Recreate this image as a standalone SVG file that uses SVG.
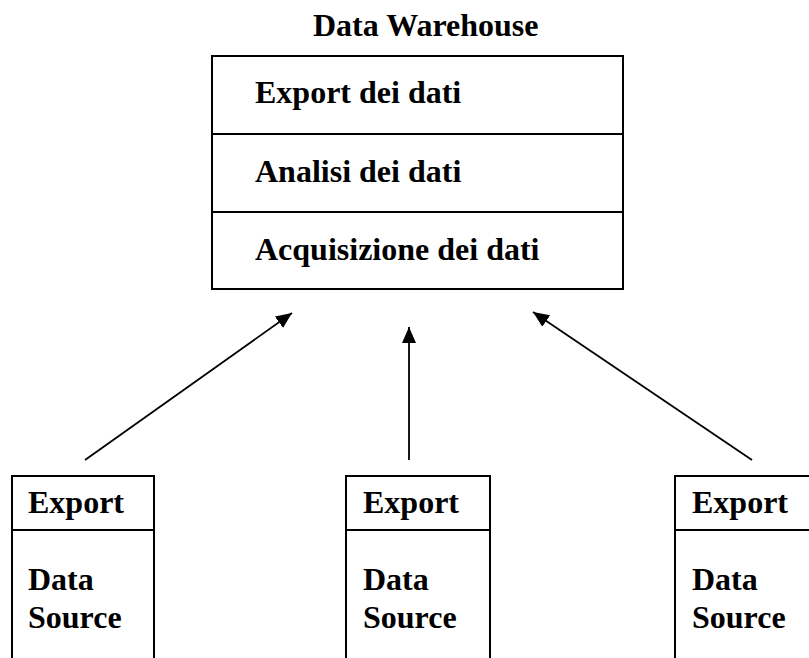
<svg xmlns="http://www.w3.org/2000/svg" width="809" height="658" viewBox="0 0 809 658">
  <style>
    .box { fill: #ffffff; stroke: #000000; stroke-width: 2; }
    .sep { stroke: #000000; stroke-width: 2; fill: none; }
    .lbl { font-family: "Liberation Serif", "Times New Roman", serif; font-weight: bold; font-size: 32px; fill: #000000; }
    .conn { stroke: #000000; stroke-width: 1.8; fill: none; marker-end: url(#arrow); }
  </style>
  <defs>
    <marker id="arrow" markerUnits="userSpaceOnUse" markerWidth="18" markerHeight="14" refX="16" refY="7" orient="auto">
      <path d="M0,0 L16,7 L0,14 Z" fill="#000000"/>
    </marker>
  </defs>
  <rect width="809" height="658" fill="#ffffff"/>

  <!-- central warehouse with its three layers -->
  <g id="data-warehouse">
    <text class="lbl" x="313" y="36">Data Warehouse</text>
    <rect class="box" x="212" y="56" width="411" height="233"/>
    <line class="sep" x1="212" y1="134" x2="623" y2="134"/>
    <line class="sep" x1="212" y1="212" x2="623" y2="212"/>
    <text class="lbl" x="255" y="103">Export dei dati</text>
    <text class="lbl" x="255" y="182">Analisi dei dati</text>
    <text class="lbl" x="255" y="260">Acquisizione dei dati</text>
  </g>

  <!-- sources, open at the bottom edge -->
  <g id="source-1">
    <path class="sep" d="M12,670 L12,476 L154,476 L154,670"/>
    <line class="sep" x1="12" y1="530" x2="154" y2="530"/>
    <text class="lbl" x="28" y="513">Export</text>
    <text class="lbl" x="28" y="590">Data</text>
    <text class="lbl" x="28" y="628">Source</text>
  </g>
  <g id="source-2">
    <path class="sep" d="M346,670 L346,476 L490,476 L490,670"/>
    <line class="sep" x1="346" y1="530" x2="490" y2="530"/>
    <text class="lbl" x="363" y="513">Export</text>
    <text class="lbl" x="363" y="590">Data</text>
    <text class="lbl" x="363" y="628">Source</text>
  </g>
  <g id="source-3">
    <path class="sep" d="M675,670 L675,476 L830,476"/>
    <line class="sep" x1="675" y1="530" x2="830" y2="530"/>
    <text class="lbl" x="692" y="513">Export</text>
    <text class="lbl" x="692" y="590">Data</text>
    <text class="lbl" x="692" y="628">Source</text>
  </g>

  <g id="connectors">
    <line class="conn" x1="85" y1="460" x2="292" y2="313"/>
    <line class="conn" x1="409" y1="460" x2="409" y2="327"/>
    <line class="conn" x1="752" y1="460" x2="533" y2="312"/>
  </g>
</svg>
